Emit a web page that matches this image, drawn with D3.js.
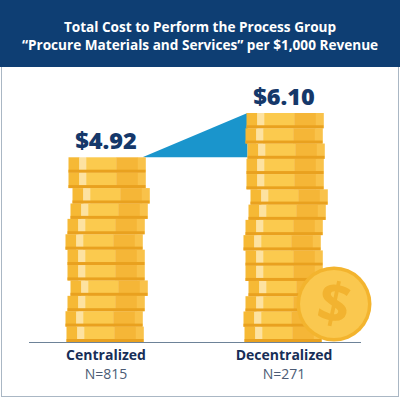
<!DOCTYPE html>
<html>
<head>
<meta charset="utf-8">
<script src="https://cdn.jsdelivr.net/npm/d3@7"></script>
<style>
  html, body { margin: 0; padding: 0; background: #fff; }
  svg { display: block; }
</style>
</head>
<body>
<svg id="chart"></svg>
<script>
// chart data
const titleLines = ["Total Cost to Perform the Process Group", "\u201CProcure Materials and Services\u201D per $1,000 Revenue"];
const categories = ["Centralized", "Decentralized"];
const costs = [4.92, 6.10];
const costLabels = ["$4.92", "$6.10"];
const sampleLabels = ["N=815", "N=271"];

// little sideways wobble of each coin in a stack (bottom first), purely decorative
const wobble = [-1, -2, 0, 3, 0, 0, -2, 0, 3, 5, 1, 1, 2, 0, 1];

const width = 400, height = 400
const baseY = 342, topY = 113
const coinW = 77, coinH = 15.25

const svg = d3.select('#chart')
    .attr('width', width)
    .attr('height', height)

// frame + header band
svg.append('rect')
    .attr('x', 1.5).attr('y', 0.5)
    .attr('width', 397).attr('height', 396)
    .attr('fill', '#fff')
    .attr('stroke', '#aab7c4')
svg.append('rect')
    .attr('x', 0).attr('y', 0)
    .attr('width', width).attr('height', 67)
    .attr('fill', '#0e3e73')

svg.append('g')
    .selectAll('text')
    .data(titleLines)
    .join('text')
    .attr('x', width / 2)
    .attr('y', (d, i) => 32 + i * 18)
    .attr('text-anchor', 'middle')
    .attr('fill', '#fff')
    .style('font-family', '"Open Sans", sans-serif')
    .style('font-weight', 700)
    .style('font-size', '13.6px')
    .text(d => d)

const x = d3.scalePoint()
    .domain(categories)
    .range([17, 373])
    .padding(0.5)

const y = d3.scaleLinear()
    .domain([0, d3.max(costs)])
    .range([baseY, topY])

// blue wedge showing the gap between the two stacks
const c0 = categories[0], c1 = categories[1]
svg.append('polygon')
    .attr('points', [
        [x(c0) + coinW / 2 - 2, y(costs[0])],
        [x(c1) - coinW / 2 + 2, y(costs[1])],
        [x(c1) - coinW / 2 + 2, y(costs[0])]
    ].map(p => p.join(',')).join(' '))
    .attr('fill', '#1a95cc')

// baseline
svg.append('line')
    .attr('x1', 29).attr('x2', 361)
    .attr('y1', baseY + 0.5).attr('y2', baseY + 0.5)
    .attr('stroke', '#6d8298')
    .attr('stroke-width', 1.2)

// coin stacks
function drawCoin(g, cx, top, h) {
    const left = cx - coinW / 2
    const parts = [
        [0, 0.14, '#f6b935'],
        [0.14, 0.23, '#fde2a0'],
        [0.23, 0.62, '#fbca4e'],
        [0.62, 0.90, '#f5b637'],
        [0.90, 1, '#f9c24a']
    ]
    parts.forEach(p => {
        g.append('rect')
            .attr('x', left + p[0] * coinW)
            .attr('y', top)
            .attr('width', (p[1] - p[0]) * coinW + 0.3)
            .attr('height', h)
            .attr('fill', p[2])
    })
    g.append('rect')
        .attr('x', left)
        .attr('y', top + h - 3)
        .attr('width', coinW)
        .attr('height', 3)
        .attr('fill', '#e9a11f')
}

categories.forEach((cat, i) => {
    const g = svg.append('g')
    const barH = y(0) - y(costs[i])
    const n = Math.round(barH / coinH)
    const h = barH / n
    for (let k = 0; k < n; k++) {
        drawCoin(g, x(cat) + wobble[k % wobble.length], y(0) - (k + 1) * h, h)
    }
})

// big coin leaning on the right stack
const coin = svg.append('g')
    .attr('transform', `translate(${x(c1) + 50},${baseY - 38})`)
coin.append('circle').attr('r', 37.5).attr('fill', '#f3b42e')
coin.append('circle').attr('r', 34).attr('fill', '#fac84f')
coin.append('text')
    .attr('text-anchor', 'middle')
    .attr('y', 19)
    .attr('transform', 'rotate(12)')
    .attr('fill', '#f2b330')
    .style('font-family', '"Open Sans", sans-serif')
    .style('font-weight', 700)
    .style('font-size', '56px')
    .text('$')

// value labels above stacks
svg.append('g')
    .selectAll('text')
    .data(costs)
    .join('text')
    .attr('x', (d, i) => x(categories[i]))
    .attr('y', d => y(d) - 8)
    .attr('text-anchor', 'middle')
    .attr('fill', '#15386a')
    .style('font-family', '"Open Sans", sans-serif')
    .style('font-weight', 800)
    .style('font-size', '23.5px')
    .text((d, i) => costLabels[i])

// category + sample size
svg.append('g')
    .selectAll('text')
    .data(categories)
    .join('text')
    .attr('x', d => x(d))
    .attr('y', 360)
    .attr('text-anchor', 'middle')
    .attr('fill', '#172e57')
    .style('font-family', '"Open Sans", sans-serif')
    .style('font-weight', 700)
    .style('font-size', '14px')
    .text(d => d)

svg.append('g')
    .selectAll('text')
    .data(sampleLabels)
    .join('text')
    .attr('x', (d, i) => x(categories[i]))
    .attr('y', 379)
    .attr('text-anchor', 'middle')
    .attr('fill', '#4b5b74')
    .style('font-family', '"Open Sans", sans-serif')
    .style('font-size', '14px')
    .text(d => d)
</script>
</body>
</html>
